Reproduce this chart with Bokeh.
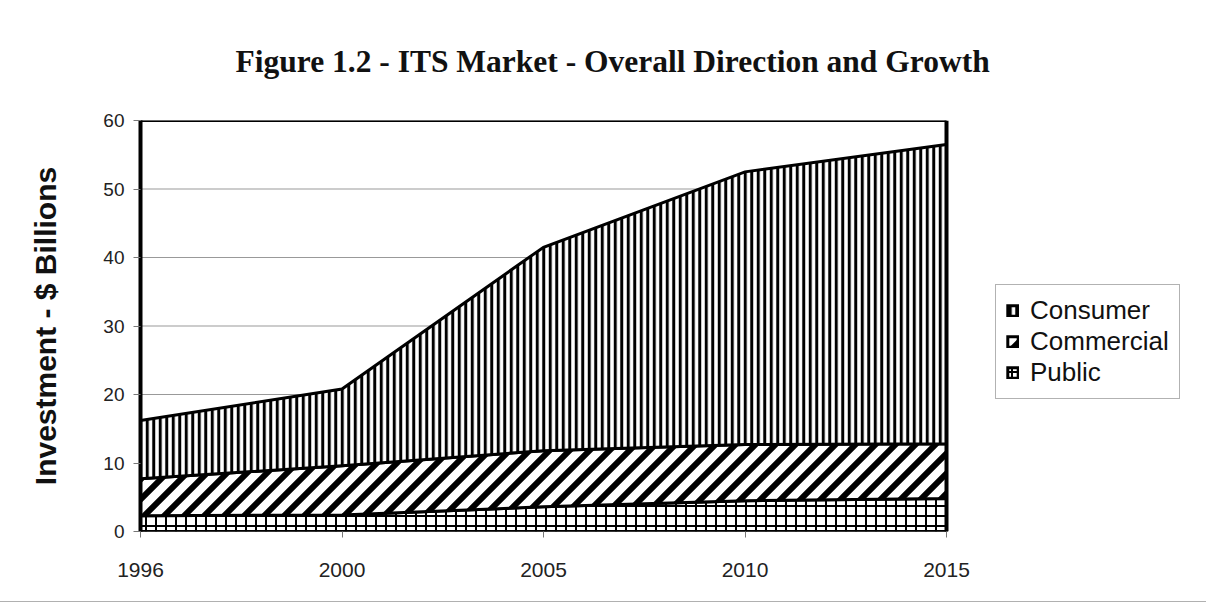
import base64
from bokeh.plotting import figure
from bokeh.models import Legend, LegendItem, Range1d, ImageURLTexture
from bokeh.embed import file_html
from bokeh.resources import INLINE

years = ["1996", "2000", "2005", "2010", "2015"]
public = [2.3, 2.4, 3.6, 4.5, 4.8]
commercial = [5.4, 7.2, 8.2, 8.2, 8.0]
consumer = [8.5, 11.2, 29.7, 39.8, 43.7]
y_ticks = [0, 10, 20, 30, 40, 50, 60]

x = list(range(len(years)))
x_first, x_last = x[0], x[-1]
y_max = y_ticks[-1]
bottom = [0.0] * len(years)
top1 = [a for a in public]
top2 = [a + b for a, b in zip(top1, commercial)]
top3 = [a + b for a, b in zip(top2, consumer)]

diag_svg = ("<svg xmlns='http://www.w3.org/2000/svg' width='20' height='20'>"
            "<rect width='20' height='20' fill='white'/>"
            "<path d='M-5,5 L5,-5 M0,20 L20,0 M15,25 L25,15' stroke='black' stroke-width='6'/>"
            "</svg>")
diag_url = "data:image/svg+xml;base64," + base64.b64encode(diag_svg.encode()).decode()
diag_tex = ImageURLTexture(url=diag_url, repetition="repeat")

# plot area 806 px for the data span; frame is extended to the right to host the legend
FRAME_W = 1190 - 140
x_end = x_last * FRAME_W / 806.0

p = figure(width=1206, height=602, x_range=Range1d(x_first, x_end), y_range=Range1d(0, y_max),
           output_backend="svg", toolbar_location=None,
           min_border_left=140, min_border_right=16, min_border_top=120, min_border_bottom=71)
p.styles = {"border-bottom": "1px solid #b0b0b0"}
p.outline_line_color = None
p.xgrid.grid_line_color = None
p.ygrid.grid_line_color = None

p.title.text = "Figure 1.2 - ITS Market - Overall Direction and Growth"
p.title.align = "left"
p.title.offset = 95
p.title.standoff = 83
p.title.text_font = "Liberation Serif"
p.title.text_font_style = "bold"
p.title.text_font_size = "31.5px"
p.title.text_color = "#111111"

# horizontal gridlines across the chart's plot area
p.segment(x0=x_first, x1=x_last, y0=y_ticks, y1=y_ticks, line_color="#999999", line_width=1)

def layer(lo, hi, **hatch):
    xs = x + x[::-1]
    ys = hi + lo[::-1]
    return p.patch(xs, ys, fill_color="white", hatch_color="black", line_color="black",
                   line_width=3, line_join="miter", **hatch)

r1 = layer(bottom, top1, hatch_pattern="cross", hatch_scale=10, hatch_weight=2)
r2 = layer(top1, top2, hatch_pattern="diag", hatch_extra={"diag": diag_tex})
r3 = layer(top2, top3, hatch_pattern="vertical_line", hatch_scale=6.5, hatch_weight=3)

# plot-area border (top, right, bottom)
p.line([x_first, x_last], [y_max, y_max], line_color="black", line_width=3)
p.line([x_last, x_last], [0, y_max], line_color="black", line_width=4)
p.line([x_first, x_last], [0, 0], line_color="black", line_width=3)

p.yaxis.ticker = y_ticks
p.yaxis.axis_line_color = "black"
p.yaxis.axis_line_width = 4
p.yaxis.major_tick_line_color = "#777777"
p.yaxis.major_tick_out = 7
p.yaxis.major_tick_in = 0
p.yaxis.minor_tick_line_color = None
p.yaxis.major_label_standoff = 9
p.yaxis.major_label_text_font = "Liberation Sans"
p.yaxis.major_label_text_font_size = "19px"
p.yaxis.major_label_text_color = "#222222"
p.yaxis.axis_label = "Investment - $ Billions"
p.yaxis.axis_label_text_font = "Liberation Sans"
p.yaxis.axis_label_text_font_style = "bold"
p.yaxis.axis_label_text_font_size = "30px"
p.yaxis.axis_label_text_color = "#111111"
p.yaxis.axis_label_standoff = 38

p.xaxis.ticker = x
p.xaxis.major_label_overrides = {i: y for i, y in enumerate(years)}
p.xaxis.axis_line_color = None
p.xaxis.major_tick_line_color = "#777777"
p.xaxis.major_tick_out = 6
p.xaxis.major_tick_in = 0
p.xaxis.minor_tick_line_color = None
p.xaxis.major_label_standoff = 25
p.xaxis.major_label_text_font = "Liberation Sans"
p.xaxis.major_label_text_font_size = "21px"
p.xaxis.major_label_text_color = "#222222"

legend = Legend(items=[LegendItem(label="Consumer", renderers=[r3]),
                       LegendItem(label="Commercial", renderers=[r2]),
                       LegendItem(label="Public", renderers=[r1])],
                location=(855, 132))
legend.label_text_font = "Liberation Sans"
legend.label_text_font_size = "26px"
legend.label_text_color = "#111111"
legend.label_height = 22
legend.spacing = 0
legend.padding = 10
legend.margin = 0
legend.glyph_width = 13
legend.glyph_height = 13
legend.label_standoff = 11
legend.border_line_color = "#666666"
legend.border_line_width = 1
legend.background_fill_color = "white"
p.add_layout(legend)

open("out.html", "w").write(file_html(p, INLINE))
